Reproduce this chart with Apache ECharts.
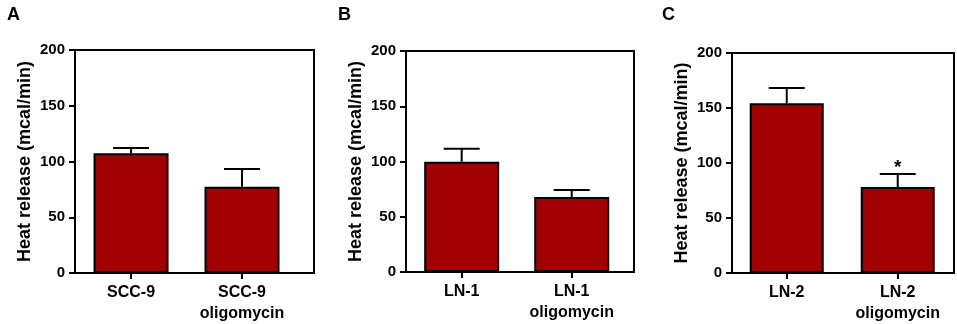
<!DOCTYPE html>
<html>
<head>
<meta charset="utf-8">
<script src="https://cdn.jsdelivr.net/npm/echarts@6/dist/echarts.min.js"></script>
<style>
  html, body { margin: 0; padding: 0; background: #ffffff; }
  #main { width: 957px; height: 324px; }
</style>
</head>
<body>
<div id="main"></div>
<script>
// heat release bars, three panels (A: SCC-9, B: LN-1, C: LN-2)
var panelLetters = ['A', 'B', 'C'];
var labelsA = ['SCC-9', 'SCC-9\noligomycin'];
var labelsB = ['LN-1', 'LN-1\noligomycin'];
var labelsC = ['LN-2', 'LN-2\noligomycin'];
var meanA = [107.4, 77.4];
var semA = [4.7, 15.9];
var meanB = [99.8, 67.9];
var semB = [11.8, 6.3];
var meanC = [154.3, 78.2];
var semC = [13.8, 11.7];
var sigC = ['', '*'];   // significance marks above bars
var yTicks = [0, 50, 100, 150, 200];

var chart = echarts.init(document.getElementById('main'));
var fontFam = 'Arial, "Liberation Sans", sans-serif';
var barColor = '#a00000';

// grid boxes + x ranges (frame wider than bars on right)
var panels = [
  { labels: labelsA, mean: meanA, sem: semA, sig: ['', ''], left: 75, top: 50, width: 239, height: 223, xmin: 0.495, xmax: 2.649, bw: 75, letterX: 7 },
  { labels: labelsB, mean: meanB, sem: semB, sig: ['', ''], left: 406, top: 51, width: 228, height: 221, xmin: 0.494, xmax: 2.566, bw: 75, letterX: 338 },
  { labels: labelsC, mean: meanC, sem: semC, sig: sigC, left: 732, top: 53, width: 222, height: 221, xmin: 0.507, xmax: 2.507, bw: 74, letterX: 662 }
];

function errBarItem(params, api) {
  var x = api.value(0);
  var m = api.value(1);
  var e = api.value(2);
  var mark = params.context.marks[params.dataIndex];
  var p0 = api.coord([x, m]);
  var p1 = api.coord([x, m + e]);
  var half = 18;
  var kids = [
    { type: 'line', shape: { x1: p0[0], y1: p0[1], x2: p1[0], y2: p1[1] }, style: { stroke: '#000', lineWidth: 2 } },
    { type: 'line', shape: { x1: p1[0] - half, y1: p1[1], x2: p1[0] + half, y2: p1[1] }, style: { stroke: '#000', lineWidth: 2 } }
  ];
  if (mark) {
    kids.push({
      type: 'text',
      style: { x: p1[0], y: p1[1] + 3, text: mark, fill: '#000', font: 'bold 19px ' + fontFam, align: 'center', verticalAlign: 'bottom' }
    });
  }
  return { type: 'group', children: kids };
}

var grids = [], xAxes = [], yAxes = [], series = [], titles = [];
panels.forEach(function (p, i) {
  grids.push({
    left: p.left, top: p.top, width: p.width, height: p.height,
    show: true, borderColor: '#000', borderWidth: 2, backgroundColor: 'transparent'
  });
  titles.push({
    text: panelLetters[i], left: p.letterX, top: 6, padding: 0,
    textStyle: { fontFamily: fontFam, fontSize: 18, fontWeight: 'bold', color: '#000' }
  });
  xAxes.push({
    gridIndex: i, type: 'value', min: p.xmin, max: p.xmax,
    splitLine: { show: false },
    axisLine: { show: true, lineStyle: { color: '#000', width: 2 } },
    axisTick: { show: true, customValues: [1, 2], length: 6, lineStyle: { color: '#000', width: 2 } },
    axisLabel: {
      customValues: [1, 2], margin: 9, color: '#000',
      fontFamily: fontFam, fontSize: 16, fontWeight: 'bold', lineHeight: 21,
      formatter: (function (lab) { return function (v) { return lab[Math.round(v) - 1]; }; })(p.labels)
    }
  });
  yAxes.push({
    gridIndex: i, type: 'value', min: yTicks[0], max: yTicks[yTicks.length - 1], interval: 50,
    name: 'Heat release (mcal/min)', nameLocation: 'middle', nameRotate: 90, nameGap: 41,
    nameTextStyle: { fontFamily: fontFam, fontSize: 18, fontWeight: 'bold', color: '#000' },
    splitLine: { show: false },
    axisLine: { show: true, lineStyle: { color: '#000', width: 2 } },
    axisTick: { show: true, length: 6, lineStyle: { color: '#000', width: 2 } },
    axisLabel: { margin: 10, color: '#000', fontFamily: fontFam, fontSize: 15, fontWeight: 'bold' }
  });
  series.push({
    type: 'bar', xAxisIndex: i, yAxisIndex: i, barWidth: p.bw,
    itemStyle: { color: barColor, borderColor: '#000', borderWidth: 2 },
    data: p.mean.map(function (m, k) { return [k + 1, m]; }),
    animation: false
  });
  series.push({
    type: 'custom', xAxisIndex: i, yAxisIndex: i, z: 1,
    renderItem: (function (marks) {
      return function (params, api) { params.context.marks = marks; return errBarItem(params, api); };
    })(p.sig),
    data: p.mean.map(function (m, k) { return [k + 1, m, p.sem[k]]; }),
    animation: false
  });
});

var option = {
  backgroundColor: '#ffffff',
  title: titles,
  grid: grids,
  xAxis: xAxes,
  yAxis: yAxes,
  series: series
};
chart.setOption(option);
window.addEventListener('resize', function () { chart.resize(); });
</script>
</body>
</html>
